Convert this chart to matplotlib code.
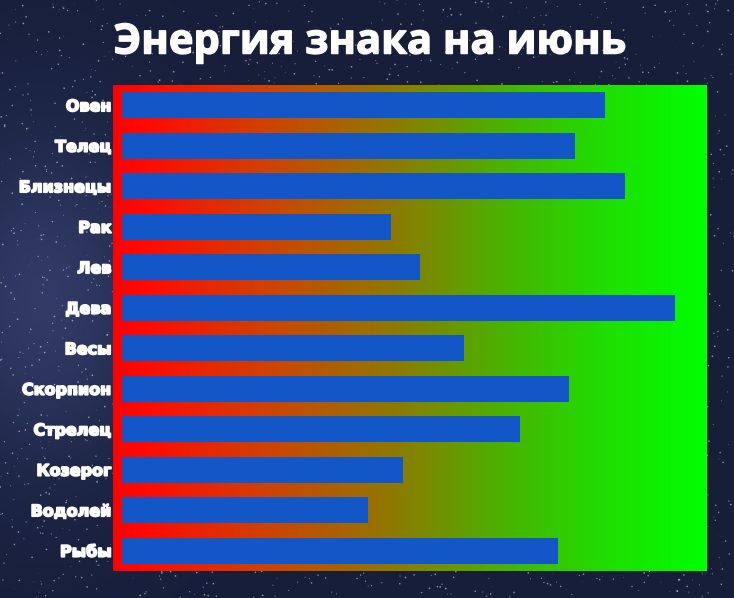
import numpy as np
import matplotlib.pyplot as plt
import matplotlib.patheffects as pe
from matplotlib.colors import LinearSegmentedColormap

signs = ["Овен", "Телец", "Близнецы", "Рак", "Лев", "Дева",
         "Весы", "Скорпион", "Стрелец", "Козерог", "Водолей", "Рыбы"]
energy = [82.5, 77.5, 86, 46, 51, 94.5, 58.5, 76.5, 68, 48, 42, 74.5]

title = "Энергия знака на июнь"


def starry_background(fig):
    bg = fig.add_axes([0, 0, 1, 1], zorder=-10)
    h, w = 300, 367
    yy, xx = np.mgrid[0:h, 0:w] / np.array([h, w])[:, None, None]
    base = np.array([0.09, 0.12, 0.23])
    img = np.ones((h, w, 3)) * base
    # lighter milky way band on the left
    glow = np.exp(-((xx - 0.06) ** 2 / 0.025 + (yy - 0.5) ** 2 / 0.08))
    img += glow[..., None] * np.array([0.10, 0.11, 0.17])
    img = np.clip(img, 0, 1)
    bg.imshow(img, extent=[0, 1, 0, 1], aspect="auto", origin="upper")
    # decorative stars, fixed seed
    rng = np.random.default_rng(3)
    n = 2500
    sx, sy = rng.random(n), rng.random(n)
    bg.scatter(sx, sy, s=rng.random(n) * 1.6, color="white",
               alpha=0.5, linewidths=0)
    bg.set_xlim(0, 1)
    bg.set_ylim(0, 1)
    bg.axis("off")


fig = plt.figure(figsize=(7.34, 5.98), dpi=100)
starry_background(fig)

ax = fig.add_axes([113 / 734, 27 / 598, 594 / 734, 486 / 598])
y = np.arange(len(signs))
ax.set_xlim(-1.5, 100)
ax.set_ylim(len(signs) - 0.5, -0.5)

cmap = LinearSegmentedColormap.from_list(
    "energy",
    [(0.0, "#ff0000"), (0.05, "#ff0a00"), (0.25, "#d24000"),
     (0.48, "#8c7c00"), (0.65, "#4cb000"), (0.82, "#22dc00"), (1.0, "#00ff00")],
)
grad = np.linspace(0, 1, 512)[None, :]
ax.imshow(grad, cmap=cmap, aspect="auto", extent=[-1.5, 100, len(signs) - 0.5, -0.5], zorder=0)

ax.barh(y, energy, height=0.64, color="#1356c8", zorder=2)

ax.set_yticks(y, signs)
ax.set_xticks([])
ax.tick_params(axis="y", length=0, pad=1)
for lbl in ax.get_yticklabels():
    lbl.set_fontfamily(["DejaVu Sans"])
    lbl.set_fontweight("bold")
    lbl.set_fontsize(11.5)
    lbl.set_color("white")
    lbl.set_path_effects([pe.withStroke(linewidth=1.2, foreground="white"),
                          pe.Normal()])
for spine in ax.spines.values():
    spine.set_visible(False)

fig.text(0.504, 0.928, title, ha="center", va="center", color="white",
         fontsize=30, fontweight="bold", family=["Open Sans", "DejaVu Sans"],
         path_effects=[pe.withStroke(linewidth=1.0, foreground="white")])

fig.savefig("out.png", dpi=100)
